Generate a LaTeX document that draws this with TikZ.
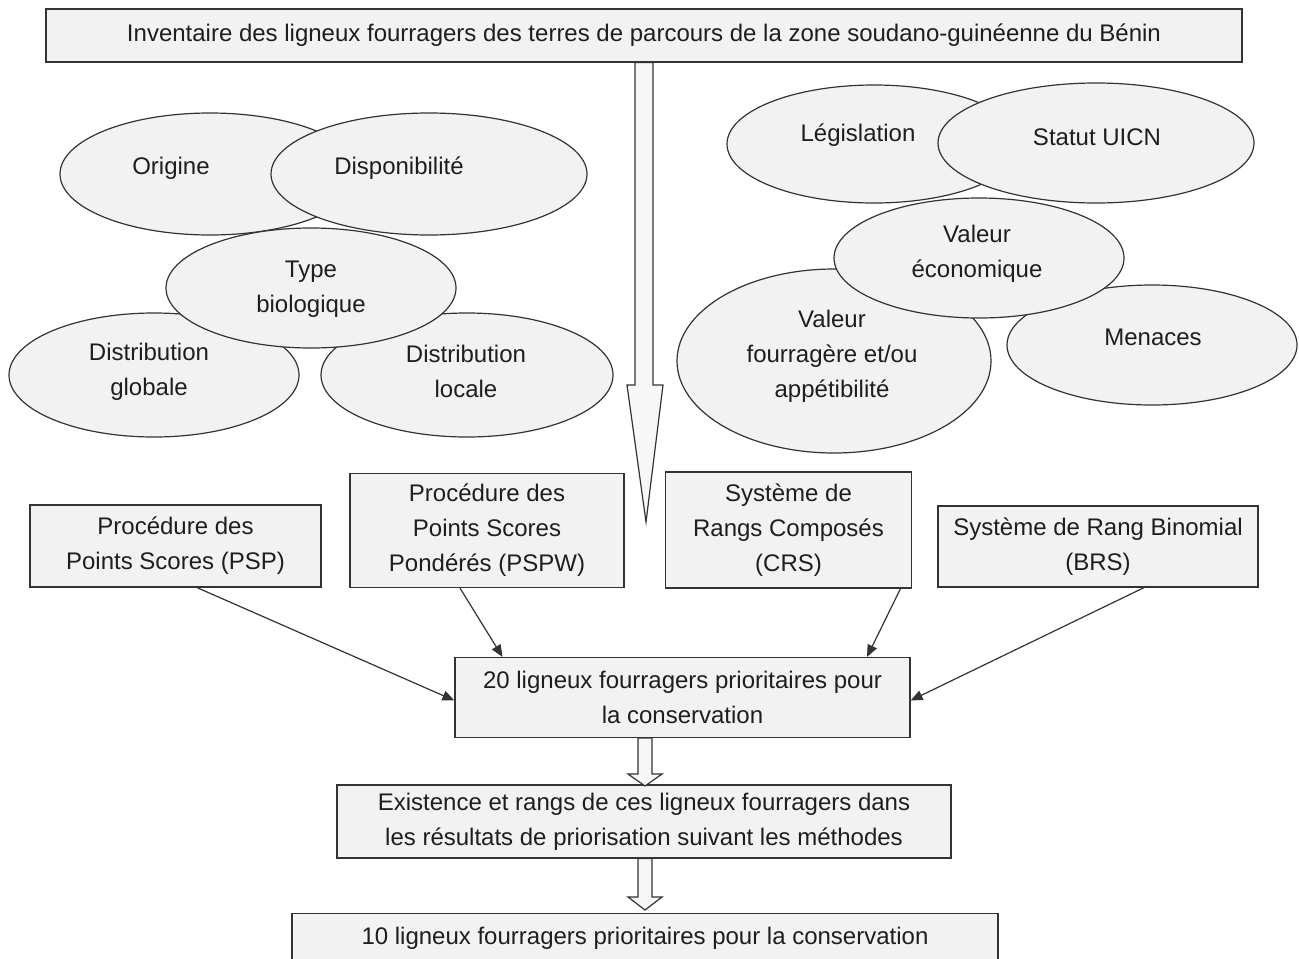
\documentclass[tikz,border=0pt]{standalone}
\usepackage{fontspec}
\setmainfont{Liberation Sans}
\usetikzlibrary{shapes.geometric,arrows.meta,calc}
\definecolor{boxfill}{HTML}{F2F2F2}
\definecolor{edgecol}{HTML}{333333}
\definecolor{txtcol}{HTML}{1E1E1E}
\begin{document}
\begin{tikzpicture}[x=0.5pt,y=-0.5pt,
  font=\fontsize{12}{17.5}\selectfont,
  box/.style={draw=edgecol, fill=boxfill, line width=0.6pt, inner sep=0pt, align=center, text=txtcol},
  elli/.style={ellipse, draw=edgecol, fill=boxfill, line width=0.6pt, inner sep=0pt},
  lbl/.style={align=center, inner sep=0pt, text=txtcol},
  conn/.style={-{Triangle[length=6pt,width=5pt]}, line width=0.6pt, draw=edgecol},
  hollow/.style={draw=edgecol, fill=boxfill!60!white, line width=0.6pt, line join=miter}]

\useasboundingbox (0,0) rectangle (1299,958);
\clip (0,0) rectangle (1299,958);

% top box
\node[box, minimum width=598pt, minimum height=26.5pt] (top) at (644,35.5)
  {Inventaire des ligneux fourragers des terres de parcours de la zone soudano-guinéenne du Bénin};

% big hollow arrow
\coordinate (bigtip) at (646,522);
\draw[hollow] (top.south -| 635,0) -- (635,385) -- (627,385) -- (bigtip) -- (663,385) -- (653,385) -- (top.south -| 653,0) -- cycle;

% left ellipse group
\node[elli, minimum width=150pt, minimum height=61pt] (orig) at (210,174) {};
\node[elli, minimum width=158pt, minimum height=61pt] (dispo) at (429,174) {};
\node[elli, minimum width=145pt, minimum height=62pt] (dglob) at (154,375) {};
\node[elli, minimum width=146pt, minimum height=62pt] (dloc) at (467,375) {};
\node[elli, minimum width=145pt, minimum height=60pt] (typeb) at (311,288) {};
\node[lbl] (torig) at (171,168) {Origine};
\node[lbl] (tdispo) at (399,168) {Disponibilité};
\node[lbl] (ttype) at (311,289.5) {Type\\biologique};
\node[lbl] (tdglob) at (149,371.5) {Distribution\\globale};
\node[lbl] (tdloc) at (466,371.5) {Distribution\\locale};

% right ellipse group
\node[elli, minimum width=157pt, minimum height=92pt] (vfour) at (834,361) {};
\node[elli, minimum width=145pt, minimum height=60pt] (menace) at (1152,345) {};
\node[elli, minimum width=147pt, minimum height=59pt] (legis) at (874,144) {};
\node[elli, minimum width=158pt, minimum height=60pt] (uicn) at (1096,143) {};
\node[elli, minimum width=145pt, minimum height=60pt] (veco) at (979,258) {};
\node[lbl] (tlegis) at (858,135) {Législation};
\node[lbl] (tuicn) at (1097,137) {Statut UICN};
\node[lbl] (tveco) at (977,253.5) {Valeur\\économique};
\node[lbl] (tvfour) at (832,356) {Valeur\\fourragère et/ou\\appétibilité};
\node[lbl] (tmenace) at (1153,337) {Menaces};

% method boxes
\node[box, minimum width=145.5pt, minimum height=41pt] (psp) at (175.5,546)
  {Procédure des\\Points Scores (PSP)};
\node[box, minimum width=137pt, minimum height=57pt] (pspw) at (487,530.5)
  {Procédure des\\Points Scores\\Pondérés (PSPW)};
\node[box, minimum width=123pt, minimum height=58pt] (crs) at (788.5,530)
  {Système de\\Rangs Composés\\(CRS)};
\node[box, minimum width=160pt, minimum height=40.5pt] (brs) at (1098,546.5)
  {Système de Rang Binomial\\(BRS)};

% result boxes
\node[box, minimum width=227.5pt, minimum height=40pt] (b20) at (682.5,697.5)
  {20 ligneux fourragers prioritaires pour\\la conservation};
\node[box, minimum width=307pt, minimum height=36.5pt] (exist) at (644,821.5)
  {Existence et rangs de ces ligneux fourragers dans\\les résultats de priorisation suivant les méthodes};
\node[box, minimum width=353pt, minimum height=30pt, anchor=north] (b10) at (645,913)
  {};
\node[lbl] (tb10) at (645,938) {10 ligneux fourragers prioritaires pour la conservation};

% connectors
\draw[conn] ([xshift=10.75pt]psp.south) -- ([yshift=-1.5pt]b20.west);
\draw[conn] ([xshift=-13.5pt]pspw.south) -- ([xshift=-90pt]b20.north);
\draw[conn] ([xshift=56pt]crs.south) -- ([xshift=92.25pt]b20.north);
\draw[conn] ([xshift=23pt]brs.south) -- ([yshift=-1.5pt]b20.east);

% small hollow arrows
\coordinate (tipA) at (645,786);
\draw[hollow] (b20.south -| 638,0) -- (638,774) -- (628,774) -- (tipA) -- (662,774) -- (652,774) -- (b20.south -| 652,0) -- cycle;
\coordinate (tipB) at (645,910);
\draw[hollow] (exist.south -| 638,0) -- (638,897) -- (628,897) -- (tipB) -- (662,897) -- (652,897) -- (exist.south -| 652,0) -- cycle;
\end{tikzpicture}
\end{document}
